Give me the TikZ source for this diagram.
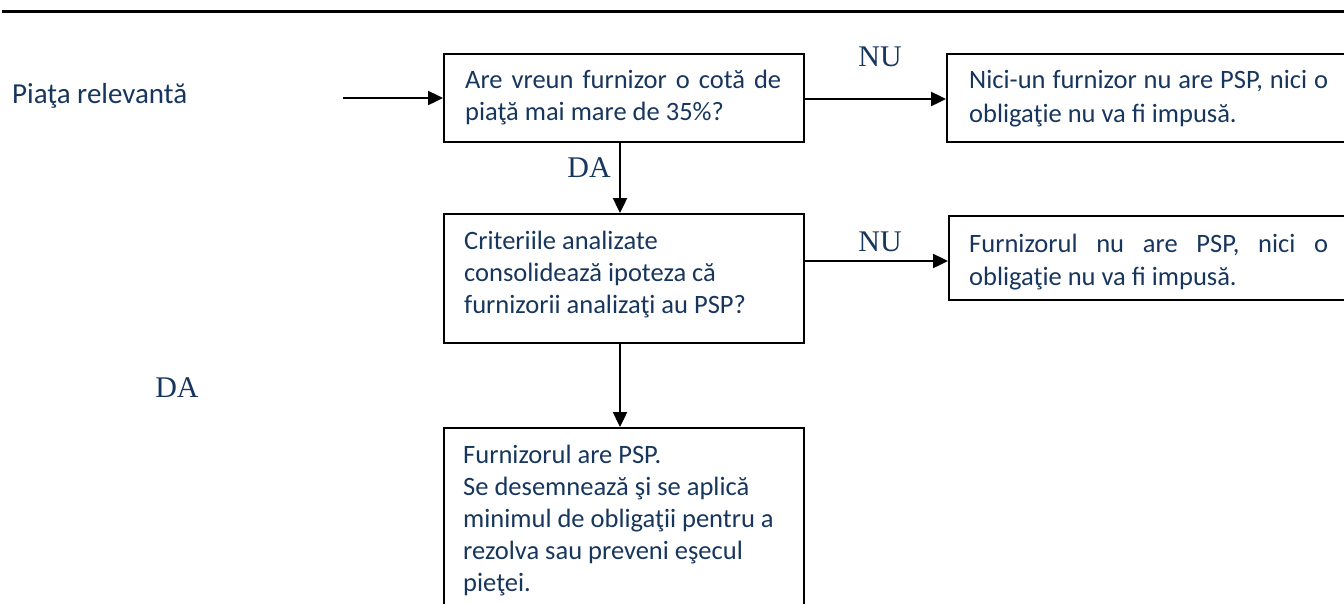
\documentclass[tikz,border=0pt]{standalone}
\usepackage{fontspec}
\setmainfont{Carlito}
\newfontfamily\timesf{Liberation Serif}
\usetikzlibrary{arrows.meta}
\definecolor{txtblue}{RGB}{23,54,93}
\begin{document}
\begin{tikzpicture}[x=1pt,y=-1pt,
  box/.style={draw=black,line width=1.7pt,rectangle,inner sep=0pt,anchor=north west},
  txt/.style={inner sep=0pt,anchor=base west,text=txtblue,font=\fontsize{26.5}{32}\selectfont},
  lbl/.style={inner sep=0pt,anchor=base,text=txtblue,font=\timesf\fontsize{30}{30}\selectfont},
  arr/.style={line width=2.4pt,-{Triangle[length=15pt,width=14pt]}}]
\useasboundingbox (0,0) rectangle (1344,603);
\clip (0,0) rectangle (1344,603);
\hyphenpenalty=10000
% top rule
\draw[line width=3pt] (2,11) -- (1344,11);
% boxes
\node[box,minimum width=360pt,minimum height=88pt] (b1) at (443,53) {};
\node[box,minimum width=420pt,minimum height=88pt] (b2) at (946,53) {};
\node[box,minimum width=420pt,minimum height=84pt] (b3) at (948,215) {};
\node[box,minimum width=360pt,minimum height=129pt] (b4) at (443,213) {};
\node[box,minimum width=360pt,minimum height=220pt] (b5) at (443,427) {};
% texts
\node[txt] (t1) at (465,88) {\parbox[t]{316pt}{Are vreun furnizor o cotă de\linebreak piaţă mai mare de 35\%?}};
\node[txt,font=\fontsize{26.5}{34}\selectfont] (t2) at (969,88) {\parbox[t]{359pt}{Nici-un furnizor nu are PSP, nici o\linebreak obligaţie nu va fi impusă.}};
\begin{scope}
\clip (940,200) rectangle (1344,289);
\node[txt,font=\fontsize{26.5}{33}\selectfont] (t3) at (969,252) {\parbox[t]{359pt}{Furnizorul nu are PSP, nici o\linebreak obligaţie nu va fi impusă.}};
\end{scope}
\node[txt] (t4) at (464,249) {\parbox[t]{360pt}{\raggedright Criteriile analizate\\ consolidează ipoteza că\\ furnizorii analizaţi au PSP?}};
\node[txt] (t5) at (463,463) {\parbox[t]{360pt}{\raggedright Furnizorul are PSP.\\ Se desemnează şi se aplică\\ minimul de obligaţii pentru a\\ rezolva sau preveni eşecul\\ pieţei.}};
\node[txt,font=\fontsize{29}{32}\selectfont] (pr) at (12,103) {Piaţa relevantă};
% labels
\node[lbl] (nu1) at (880,66) {NU};
\node[lbl] (da1) at (589,177) {DA};
\node[lbl] (nu2) at (880,251) {NU};
\node[lbl] (da2) at (177,397) {DA};
% connectors
\coordinate (in) at (343,98);
\draw[arr] (in) -- (in -| b1.west);
\draw[arr] (b1.east |- 0,99) -- (b2.west |- 0,99);
\draw[arr] (b1.south -| 620,0) -- (b4.north -| 620,0);
\draw[arr] (b4.east |- 0,261) -- (b3.west |- 0,261);
\draw[arr] (b4.south -| 620,0) -- (b5.north -| 620,0);
\end{tikzpicture}
\end{document}
